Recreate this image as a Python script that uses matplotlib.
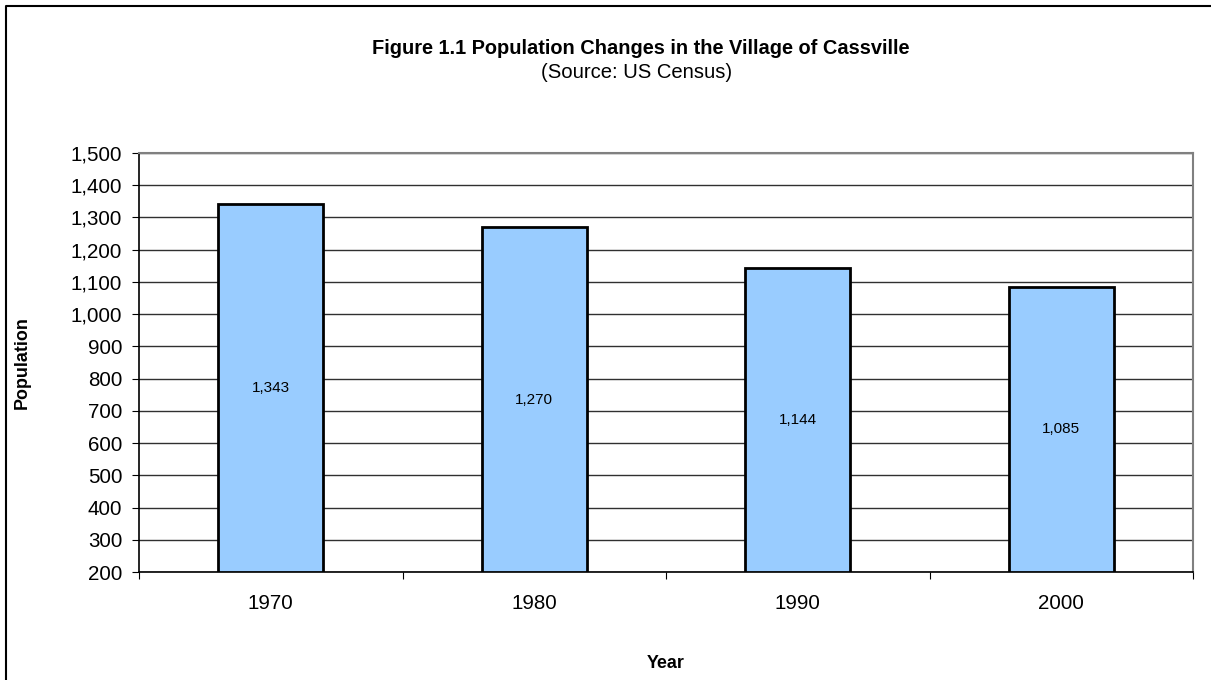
import numpy as np
import matplotlib.pyplot as plt
from matplotlib.lines import Line2D
from matplotlib.ticker import FuncFormatter

years = ['1970', '1980', '1990', '2000']
population = [1343, 1270, 1144, 1085]
y_min, y_max, y_step = 200, 1500, 100

plt.rcParams['font.family'] = ['Liberation Sans', 'DejaVu Sans']

W, H = 1211, 680
fig = plt.figure(figsize=(W / 100, H / 100), dpi=100)

# plot area in pixel coordinates
left, right, top, bottom = 139, 1193, 153, 572
ax = fig.add_axes([left / W, 1 - bottom / H, (right - left) / W, (bottom - top) / H])

x = np.arange(len(years))
ax.bar(x, [p - y_min for p in population], bottom=y_min, width=0.4,
       color='#99CCFF', edgecolor='black', linewidth=2, zorder=3)

for xi, p in zip(x, population):
    ax.text(xi, (p + y_min) / 2, f'{p:,}', ha='center', va='center', fontsize=11, zorder=4)

ax.set_xlim(-0.5, len(years) - 0.5)
ax.set_ylim(y_min, y_max)
ax.set_yticks(np.arange(y_min, y_max + 1, y_step))
ax.yaxis.set_major_formatter(FuncFormatter(lambda v, _: f'{int(v):,}'))
ax.grid(axis='y', color='#303030', linewidth=1, zorder=0)

ax.set_xticks(np.arange(-0.5, len(years), 1))
ax.set_xticklabels([])
ax.set_xticks(x, minor=True)
ax.set_xticklabels(years, minor=True, fontsize=14.8)
ax.tick_params(axis='x', which='minor', length=0, pad=16)
ax.tick_params(axis='x', which='major', length=5, direction='out', color='black')
ax.tick_params(axis='y', length=5, direction='out', labelsize=14.8, pad=7)

for side in ['top', 'right']:
    ax.spines[side].set_color('#808080')
    ax.spines[side].set_linewidth(1.5)
for side in ['left', 'bottom']:
    ax.spines[side].set_color('black')
    ax.spines[side].set_linewidth(1.2)

fig.text(641 / W, 1 - 49 / H, 'Figure 1.1 Population Changes in the Village of Cassville',
         ha='center', va='center', fontsize=14.4, fontweight='bold')
fig.text(637 / W, 1 - 73 / H, '(Source: US Census)', ha='center', va='center', fontsize=14.6)
fig.text(22 / W, 1 - 363 / H, 'Population', rotation=90, ha='center', va='center',
         fontsize=12.9, fontweight='bold')
fig.text(666 / W, 1 - 663 / H, 'Year', ha='center', va='center', fontsize=12.9, fontweight='bold')

# outer chart frame (left and top edges only visible)
fig.add_artist(Line2D([6 / W, 6 / W, 1.0], [0.0, 1 - 6 / H, 1 - 6 / H],
                      transform=fig.transFigure, color='black', linewidth=1.5))

fig.savefig('out.png', dpi=100)
